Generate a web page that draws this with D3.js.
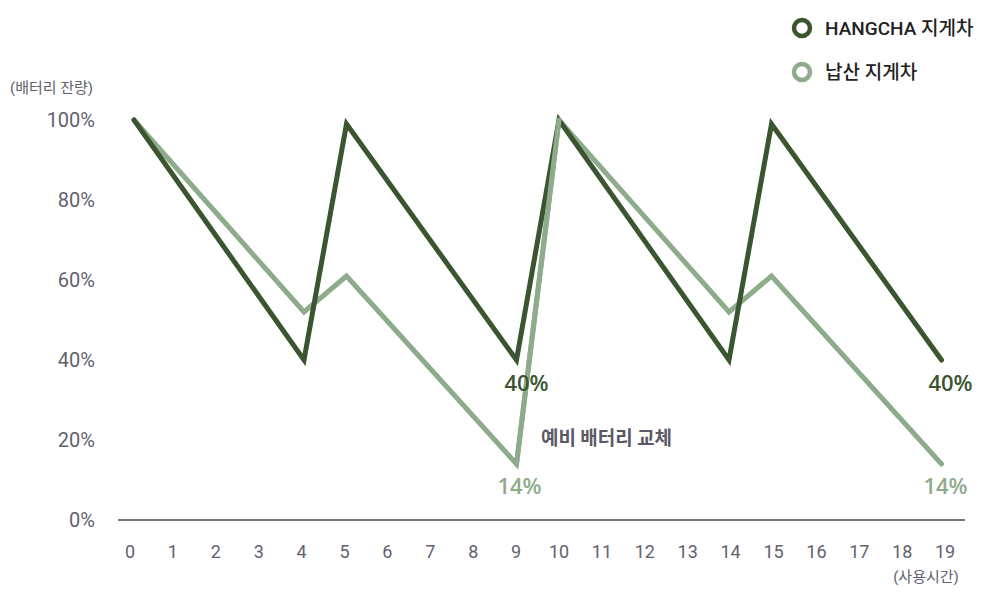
<!DOCTYPE html>
<html>
<head>
<meta charset="utf-8">
<script src="https://cdn.jsdelivr.net/npm/d3@7"></script>
<style>
  body { margin: 0; background: #fff; }
  text { font-family: Roboto, "Noto Sans CJK KR", sans-serif; }
</style>
</head>
<body>
<svg id="chart" width="990" height="604"></svg>
<script>
// usage hours on the x axis
var hours = d3.range(0, 20);
// battery level (%) at each turning point
var hangchaX = [0, 4, 5, 9, 10, 14, 15, 19];
var hangchaY = [100, 40, 99, 40, 100, 40, 99, 40];
var nasanX = [0, 4, 5, 9, 10, 14, 15, 19];
var nasanY = [100, 52, 61, 14, 100, 52, 61, 14];
var yTicks = [0, 20, 40, 60, 80, 100];
var seriesNames = ["HANGCHA 지게차", "납산 지게차"];
var colors = ["#3b5531", "#8eab8c"];

var svg = d3.select("#chart");

var x = d3.scaleLinear().domain([0, 19]).range([134, 941.5]);
var y = d3.scaleLinear().domain([0, 100]).range([520, 120]);

// x axis line
svg.append("line")
  .attr("x1", 118).attr("x2", 965)
  .attr("y1", y(0)).attr("y2", y(0))
  .attr("stroke", "#777").attr("stroke-width", 2);

// x tick labels
svg.selectAll(".xl").data(hours).enter().append("text")
  .attr("x", function(d) { return x(d) - 4 + d * 0.4; })
  .attr("y", 558)
  .attr("text-anchor", "middle")
  .attr("font-size", 18)
  .attr("fill", "#62626e")
  .text(function(d) { return d; });

svg.append("text")
  .attr("x", 926).attr("y", 582)
  .attr("text-anchor", "middle")
  .attr("font-size", 15)
  .attr("fill", "#62626e")
  .text("(사용시간)");

// y tick labels
svg.selectAll(".yl").data(yTicks).enter().append("text")
  .attr("x", 95)
  .attr("y", function(d) { return y(d) + 7; })
  .attr("text-anchor", "end")
  .attr("font-size", 20)
  .attr("fill", "#62626e")
  .text(function(d) { return d + "%"; });

svg.append("text")
  .attr("x", 10).attr("y", 93)
  .attr("font-size", 15)
  .attr("fill", "#62626e")
  .text("(배터리 잔량)");

var line = d3.line()
  .x(function(d) { return x(d[0]); })
  .y(function(d) { return y(d[1]); });

// light series first, dark on top
svg.append("path")
  .datum(d3.zip(nasanX, nasanY))
  .attr("d", line)
  .attr("fill", "none")
  .attr("stroke", colors[1])
  .attr("stroke-width", 5)
  .attr("stroke-linecap", "round");

svg.append("path")
  .datum(d3.zip(hangchaX, hangchaY))
  .attr("d", line)
  .attr("fill", "none")
  .attr("stroke", colors[0])
  .attr("stroke-width", 5)
  .attr("stroke-linecap", "round");

// light segment over the 9->10 jump sits on top in the reference
svg.append("path")
  .datum([[nasanX[3], nasanY[3]], [nasanX[4], nasanY[4]]])
  .attr("d", line)
  .attr("fill", "none")
  .attr("stroke", colors[1])
  .attr("stroke-width", 5)
  .attr("stroke-linecap", "round");

// value labels at the low points
var lowLabels = [
  {x: 9, v: 40, dx: 10, dy: 31, c: colors[0]},
  {x: 19, v: 40, dx: 9, dy: 31, c: colors[0]},
  {x: 9, v: 14, dx: 3, dy: 30, c: colors[1]},
  {x: 19, v: 14, dx: 4, dy: 30, c: colors[1]}
];
svg.selectAll(".low").data(lowLabels).enter().append("text")
  .attr("x", function(d) { return x(d.x) + d.dx; })
  .attr("y", function(d) { return y(d.v) + d.dy; })
  .attr("text-anchor", "middle")
  .style("font-family", "'Open Sans', sans-serif")
  .attr("font-size", 22)
  .attr("font-weight", 600)
  .attr("fill", function(d) { return d.c; })
  .text(function(d) { return d.v + "%"; });

svg.append("text")
  .attr("x", 541).attr("y", 445)
  .style("font-family", "'Noto Sans CJK KR', sans-serif")
  .attr("font-size", 19)
  .attr("font-weight", "bold")
  .attr("fill", "#5a5a66")
  .text("예비 배터리 교체");

// legend
var legend = svg.selectAll(".lg").data(seriesNames).enter().append("g")
  .attr("transform", function(d, i) { return "translate(802," + (28 + i * 44) + ")"; });
legend.append("circle")
  .attr("r", 8)
  .attr("fill", "#fff")
  .attr("stroke", function(d, i) { return colors[i]; })
  .attr("stroke-width", 4.5);
legend.append("text")
  .attr("x", 23).attr("y", 7)
  .attr("font-size", 19)
  .attr("font-weight", 500)
  .attr("fill", "#222")
  .text(function(d) { return d; });
</script>
</body>
</html>
